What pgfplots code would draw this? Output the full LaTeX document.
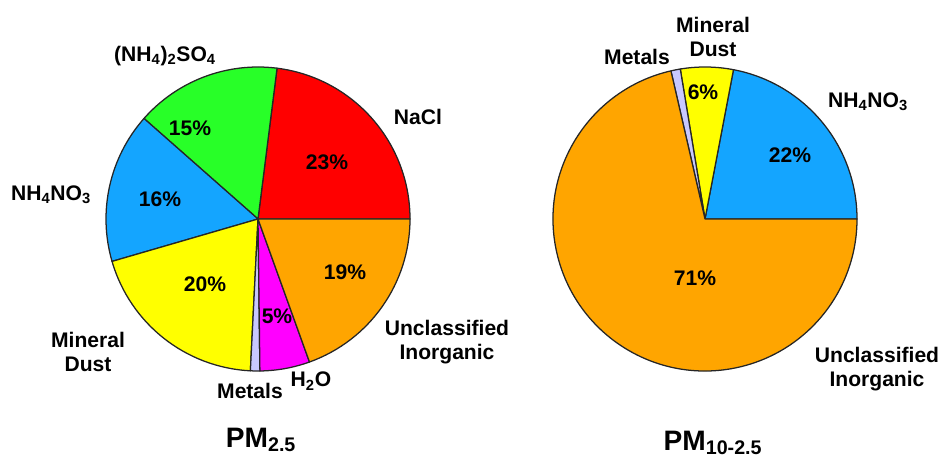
\documentclass[border=0pt]{standalone}
\usepackage{pgfplots}
\usepackage{pgfplotstable}
\pgfplotsset{compat=1.18}
\usepackage{fontspec}
\setmainfont{Liberation Sans}

\definecolor{cRed}{RGB}{255,0,0}
\definecolor{cGreen}{RGB}{40,255,40}
\definecolor{cBlue}{RGB}{20,165,255}
\definecolor{cYellow}{RGB}{255,255,0}
\definecolor{cMetal}{RGB}{200,200,255}
\definecolor{cMag}{RGB}{255,0,255}
\definecolor{cOrange}{RGB}{255,165,0}

% PM2.5 composition (percent), counterclockwise from east
\pgfplotstableread{
name value color
NaCl 23.0 cRed
AmmSulfate 15.5 cGreen
AmmNitrate 16.0 cBlue
MineralDust 19.7 cYellow
Metals 1.0 cMetal
Water 5.3 cMag
Unclassified 19.5 cOrange
}\fineTable

% PM10-2.5 composition (percent), counterclockwise from east
\pgfplotstableread{
name value color
AmmNitrate 22.0 cBlue
MineralDust 5.6 cYellow
Metals 1.0 cMetal
Unclassified 71.4 cOrange
}\coarseTable

% draw pie slices of table #1 centred at axis point (#2,#3) with radius #4
\newcommand{\pieslices}[4]{%
  \pgfplotstablegetrowsof{#1}%
  \pgfmathtruncatemacro\nrows{\pgfplotsretval-1}%
  \gdef\angA{0}%
  \pgfplotsforeachungrouped \i in {0,...,\nrows}{%
    \pgfplotstablegetelem{\i}{value}\of{#1}\let\val\pgfplotsretval
    \pgfplotstablegetelem{\i}{color}\of{#1}\let\col\pgfplotsretval
    \pgfmathsetmacro\angB{\angA+3.6*\val}%
    \edef\temp{\noexpand\filldraw[fill=\col, draw=black!85, line width=0.9pt, line join=round]
      (axis cs:#2,#3) -- ++(\angA:#4) arc[start angle=\angA, end angle=\angB, radius=#4] -- cycle;}%
    \temp
    \global\let\angA\angB
  }%
}

\begin{document}
\begin{tikzpicture}
\begin{axis}[
  x=0.25mm, y=0.25mm,
  xmin=0, xmax=941, ymin=0, ymax=462,
  y dir=reverse,
  hide axis, clip=false, scale only axis,
]
\path (axis cs:0,0) rectangle (axis cs:941,462);
\pieslices{\fineTable}{258}{219}{38mm}
\pieslices{\coarseTable}{705}{219}{38mm}

\tikzset{lab/.style={font=\fontsize{15}{17.5}\selectfont\bfseries, align=center, inner sep=0pt}}
% left pie labels
\node[lab] at (axis cs:418,117) {NaCl};
\node[lab] at (axis cs:165,56) {(NH\textsubscript{4})\textsubscript{2}SO\textsubscript{4}};
\node[lab] at (axis cs:51,195) {NH\textsubscript{4}NO\textsubscript{3}};
\node[lab] at (axis cs:88,352) {Mineral\\Dust};
\node[lab] at (axis cs:250,391) {Metals};
\node[lab] at (axis cs:311,381) {H\textsubscript{2}O};
\node[lab] at (axis cs:447,342) {Unclassified\\Inorganic};
\node[lab] at (axis cs:327,162) {23\%};
\node[lab] at (axis cs:190,128) {15\%};
\node[lab] at (axis cs:160,199) {16\%};
\node[lab] at (axis cs:205,284) {20\%};
\node[lab] at (axis cs:277,316) {5\%};
\node[lab] at (axis cs:345,272) {19\%};
\node[lab, font=\fontsize{20}{22}\selectfont\bfseries] at (axis cs:261,440) {PM\textsubscript{2.5}};
% right pie labels
\node[lab] at (axis cs:637,57) {Metals};
\node[lab] at (axis cs:713,37) {Mineral\\Dust};
\node[lab] at (axis cs:868,102) {NH\textsubscript{4}NO\textsubscript{3}};
\node[lab] at (axis cs:790,155) {22\%};
\node[lab] at (axis cs:703,92) {6\%};
\node[lab] at (axis cs:695,278) {71\%};
\node[lab] at (axis cs:877,369) {Unclassified\\Inorganic};
\node[lab, font=\fontsize{20}{22}\selectfont\bfseries] at (axis cs:713,443) {PM\textsubscript{10-2.5}};
\end{axis}
\end{tikzpicture}
\end{document}
